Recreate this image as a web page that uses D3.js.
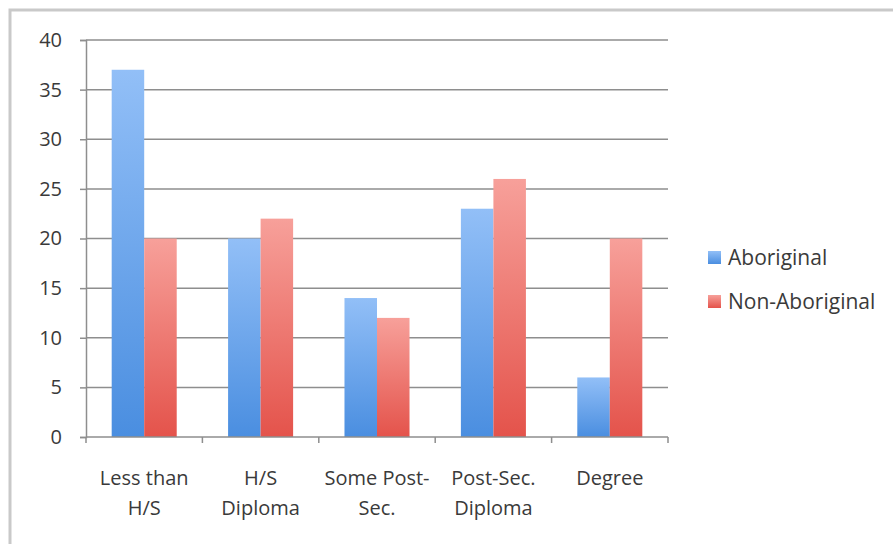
<!DOCTYPE html>
<html>
<head>
<meta charset="utf-8">
<script src="https://cdn.jsdelivr.net/npm/d3@7"></script>
<style>
  body { margin: 0; background: #fff; }
  svg { display: block; }
  text { font-family: "Open Sans", Lato, sans-serif; fill: #3a3a3a; }
</style>
</head>
<body>
<div id="chart"></div>
<script>
const categories = [['Less than', 'H/S'], ['H/S', 'Diploma'], ['Some Post-', 'Sec.'], ['Post-Sec.', 'Diploma'], ['Degree']];
const seriesNames = ['Aboriginal', 'Non-Aboriginal'];
const aboriginal = [37, 20, 14, 23, 6];
const nonAboriginal = [20, 22, 12, 26, 20];
const yTicks = [0, 5, 10, 15, 20, 25, 30, 35, 40];

const width = 893, height = 544;
const plot = { left: 86, right: 668, top: 40, bottom: 437 };
const fontSize = 20;
const colors = [
  { top: '#92bff7', bottom: '#4a8ee0' },
  { top: '#f7a09a', bottom: '#e4534b' }
];

const svg = d3.select('#chart')
  .append('svg')
  .attr('width', width)
  .attr('height', height);

// gradients for the bars, light at the top, stronger at the base
const defs = svg.append('defs');
colors.forEach((c, i) => {
  const grad = defs.append('linearGradient')
    .attr('id', `grad-${i}`)
    .attr('x1', 0).attr('y1', 0).attr('x2', 0).attr('y2', 1);
  grad.append('stop').attr('offset', '0%').attr('stop-color', c.top);
  grad.append('stop').attr('offset', '100%').attr('stop-color', c.bottom);
});

// outer frame
svg.append('rect')
  .attr('x', 10).attr('y', 10)
  .attr('width', width + 20).attr('height', height + 20)
  .attr('fill', 'none')
  .attr('stroke', '#c9c9c9')
  .attr('stroke-width', 3);

const x0 = d3.scaleBand()
  .domain(d3.range(categories.length))
  .range([plot.left, plot.right])
  .paddingInner(0)
  .paddingOuter(0);

const x1 = d3.scaleBand()
  .domain(d3.range(seriesNames.length))
  .range([0, x0.bandwidth()])
  .paddingOuter(0.79)
  .paddingInner(0);

const y = d3.scaleLinear()
  .domain([0, 40])
  .range([plot.bottom, plot.top]);

// gridlines
svg.append('g')
  .selectAll('line')
  .data(yTicks.filter(d => d > 0))
  .join('line')
  .attr('x1', plot.left).attr('x2', plot.right)
  .attr('y1', d => y(d)).attr('y2', d => y(d))
  .attr('stroke', '#8e8e8e')
  .attr('stroke-width', 1.5);

// y axis
const yAxis = svg.append('g')
  .attr('transform', `translate(${plot.left},0)`)
  .call(d3.axisLeft(y).tickValues(yTicks).tickSize(6).tickPadding(18));
yAxis.select('.domain').attr('stroke', '#8e8e8e').attr('stroke-width', 1.5);
yAxis.selectAll('.tick line').attr('stroke', '#8e8e8e').attr('stroke-width', 1.5);
yAxis.selectAll('text')
  .attr('font-size', fontSize)
  .attr('fill', '#3a3a3a')
  .style('font-family', '"Open Sans", Lato, sans-serif');

// bars
const seriesData = [aboriginal, nonAboriginal];
const groups = svg.append('g')
  .selectAll('g')
  .data(categories.map((c, i) => i))
  .join('g')
  .attr('transform', i => `translate(${x0(i)},0)`);

groups.selectAll('rect')
  .data(i => seriesData.map((s, k) => ({ k, v: s[i] })))
  .join('rect')
  .attr('x', d => x1(d.k))
  .attr('y', d => y(d.v))
  .attr('width', x1.bandwidth())
  .attr('height', d => y(0) - y(d.v))
  .attr('fill', d => `url(#grad-${d.k})`);

// x axis
const xAxisG = svg.append('g');
xAxisG.append('line')
  .attr('x1', plot.left).attr('x2', plot.right)
  .attr('y1', plot.bottom).attr('y2', plot.bottom)
  .attr('stroke', '#8e8e8e')
  .attr('stroke-width', 1.5);
xAxisG.selectAll('.xtick')
  .data(d3.range(categories.length + 1))
  .join('line')
  .attr('class', 'xtick')
  .attr('x1', i => plot.left + i * x0.bandwidth())
  .attr('x2', i => plot.left + i * x0.bandwidth())
  .attr('y1', plot.bottom).attr('y2', plot.bottom + 6)
  .attr('stroke', '#8e8e8e')
  .attr('stroke-width', 1.5);

xAxisG.selectAll('.xlabel')
  .data(categories)
  .join('text')
  .attr('class', 'xlabel')
  .attr('text-anchor', 'middle')
  .attr('font-size', fontSize)
  .attr('transform', (d, i) => `translate(${x0(i) + x0.bandwidth() / 2},485)`)
  .selectAll('tspan')
  .data(d => d)
  .join('tspan')
  .attr('x', 0)
  .attr('y', (d, j) => j * 30)
  .text(d => d);

// legend
const legend = svg.append('g')
  .attr('transform', 'translate(708,251)');
const item = legend.selectAll('g')
  .data(seriesNames)
  .join('g')
  .attr('transform', (d, i) => `translate(0,${i * 44})`);
item.append('rect')
  .attr('width', 13).attr('height', 13)
  .attr('fill', (d, i) => `url(#grad-${i})`);
item.append('text')
  .attr('x', 20)
  .attr('y', 14)
  .attr('font-size', 21)
  .text(d => d);
</script>
</body>
</html>
